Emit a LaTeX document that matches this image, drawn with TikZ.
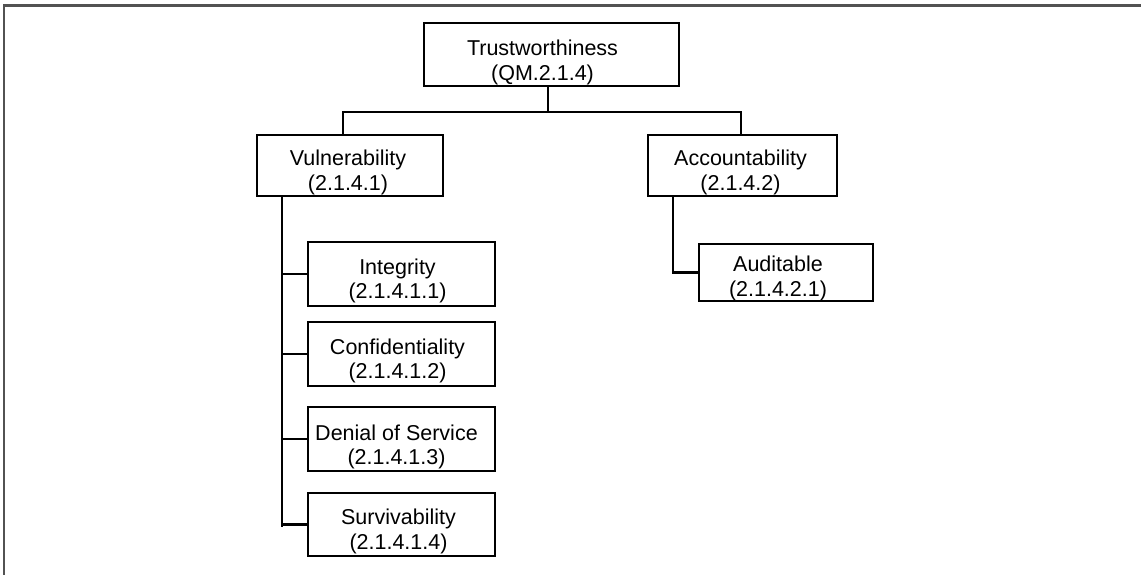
\documentclass[tikz,border=0pt]{standalone}
\usepackage{fontspec}
\setmainfont{Liberation Sans}
\begin{document}
\begin{tikzpicture}[x=1pt,y=-1pt,
  box/.style={draw=black,line width=2.8pt,fill=white,inner sep=0pt},
  txt/.style={align=center,inner sep=0pt,font=\fontsize{21.5pt}{24.5pt}\selectfont},
  conn/.style={draw=black,line width=2.9pt},
  frame/.style={draw=black!68,line width=2.5pt}]
\useasboundingbox (0,0) rectangle (1141,575);
\draw[frame] (1141,5.5) -- (4,5.5) -- (4,575);

% boxes
\node[box,minimum width=255pt,minimum height=63pt] (T) at (551.5,54.5) {};
\node[box,minimum width=186pt,minimum height=61pt] (V) at (350,165.5) {};
\node[box,minimum width=189pt,minimum height=61pt] (A) at (742.5,165.5) {};
\node[box,minimum width=187pt,minimum height=64pt] (I) at (401.5,274) {};
\node[box,minimum width=187pt,minimum height=64pt] (C) at (401.5,354) {};
\node[box,minimum width=187pt,minimum height=64pt] (D) at (401.5,439) {};
\node[box,minimum width=187pt,minimum height=63pt] (S) at (401.5,524.5) {};
\node[box,minimum width=174pt,minimum height=57pt] (Au) at (786,272.5) {};

% texts
\node[txt] (Tt) at ([xshift=-9pt,yshift=-8pt]T.center) {Trustworthiness\\(QM.2.1.4)};
\node[txt] (Vt) at ([xshift=-2pt,yshift=-7pt]V.center) {Vulnerability\\(2.1.4.1)};
\node[txt] (At) at ([xshift=-2pt,yshift=-7pt]A.center) {Accountability\\(2.1.4.2)};
\node[txt] (It) at ([xshift=-4pt,yshift=-7pt]I.center) {Integrity\\(2.1.4.1.1)};
\node[txt] (Ct) at ([xshift=-4pt,yshift=-7pt]C.center) {Confidentiality\\(2.1.4.1.2)};
\node[txt] (Dt) at ([xshift=-5pt,yshift=-8pt]D.center) {Denial of Service\\(2.1.4.1.3)};
\node[txt] (St) at ([xshift=-3pt,yshift=-7pt]S.center) {Survivability\\(2.1.4.1.4)};
\node[txt] (Aut) at ([xshift=-8pt,yshift=-6pt]Au.center) {Auditable\\(2.1.4.2.1)};

% connector anchors
\coordinate (bus) at (548,112);
\coordinate (vl) at (343,0);
\coordinate (al) at (741,0);
\coordinate (sp) at (282,0);
\coordinate (sp2) at (673,0);
\coordinate (spend) at (282,527);

% connectors
\draw[conn] (T.south -| bus) -- (bus);
\draw[conn] (V.north -| vl) -- (vl |- bus) -- (al |- bus) -- (A.north -| al);
\draw[conn] (V.south -| sp) -- (spend);
\draw[conn] (I.west) -- (I.west -| sp);
\draw[conn] (C.west) -- (C.west -| sp);
\draw[conn] (D.west) -- (D.west -| sp);
\draw[conn] (S.west) -- (S.west -| sp);
\draw[conn] (A.south -| sp2) |- (Au.west);
\end{tikzpicture}
\end{document}
